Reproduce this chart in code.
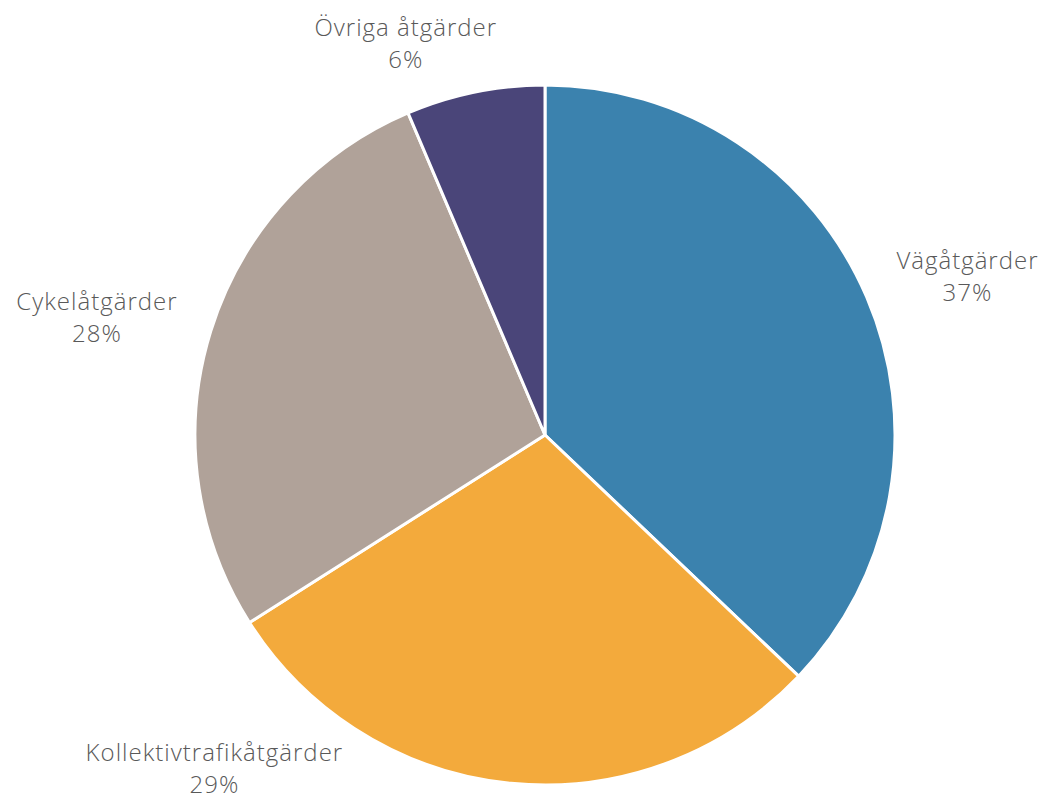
<!DOCTYPE html>
<html>
<head>
<meta charset="utf-8">
<script src="https://cdn.jsdelivr.net/npm/d3@7"></script>
<style>
  body { margin: 0; background: #fff; }
  svg { display: block; font-family: "Open Sans", Roboto, sans-serif; }
</style>
</head>
<body>
<div class="viz"></div>
<script>
// share of the investments, clockwise from twelve o'clock
const categories = ['Vägåtgärder', 'Kollektivtrafikåtgärder', 'Cykelåtgärder', 'Övriga åtgärder'];
const shares = [37.1, 28.9, 27.6, 6.4];
const percentLabels = ['37%', '29%', '28%', '6%'];
const colors = ['#3b82ae', '#f3aa3c', '#b0a299', '#4a4579'];

const width = 1047;
const height = 799;
const center = { x: 545, y: 435 };
const radius = 350;

// where each label sits (angle from twelve o'clock in degrees, distance from the center)
const labelLayout = {
  'Vägåtgärder': { angle: 69.5, distance: 451 },
  'Kollektivtrafikåtgärder': { angle: 224.7, distance: 470 },
  'Cykelåtgärder': { angle: 284.6, distance: 463 },
  'Övriga åtgärder': { angle: 340.4, distance: 415 },
};

const data = categories.map((name, i) => ({
  name,
  value: shares[i],
  label: percentLabels[i],
  color: colors[i],
}));

const svg = d3
  .select('.viz')
  .append('svg')
  .attr('width', width)
  .attr('height', height)
  .attr('viewBox', `0 0 ${width} ${height}`);

const pie = d3
  .pie()
  .value(d => d.value)
  .sort(null);

const arc = d3
  .arc()
  .innerRadius(0)
  .outerRadius(radius);

const group = svg
  .append('g')
  .attr('transform', `translate(${center.x} ${center.y})`);

group
  .selectAll('path')
  .data(pie(data))
  .enter()
  .append('path')
  .attr('d', arc)
  .attr('fill', d => d.data.color)
  .attr('stroke', '#fff')
  .attr('stroke-width', 3)
  .attr('stroke-linejoin', 'round');

const labels = group
  .selectAll('text')
  .data(data)
  .enter()
  .append('text')
  .attr('transform', d => {
    const { angle, distance } = labelLayout[d.name];
    const a = angle * Math.PI / 180;
    return `translate(${Math.sin(a) * distance} ${-Math.cos(a) * distance})`;
  })
  .attr('text-anchor', 'middle')
  .attr('font-size', 24)
  .attr('font-weight', 300)
  .style('letter-spacing', '1px')
  .attr('fill', '#595959');

labels
  .append('tspan')
  .attr('x', 0)
  .attr('y', -8)
  .text(d => d.name);

labels
  .append('tspan')
  .attr('x', 0)
  .attr('y', 24)
  .text(d => d.label);
</script>
</body>
</html>
